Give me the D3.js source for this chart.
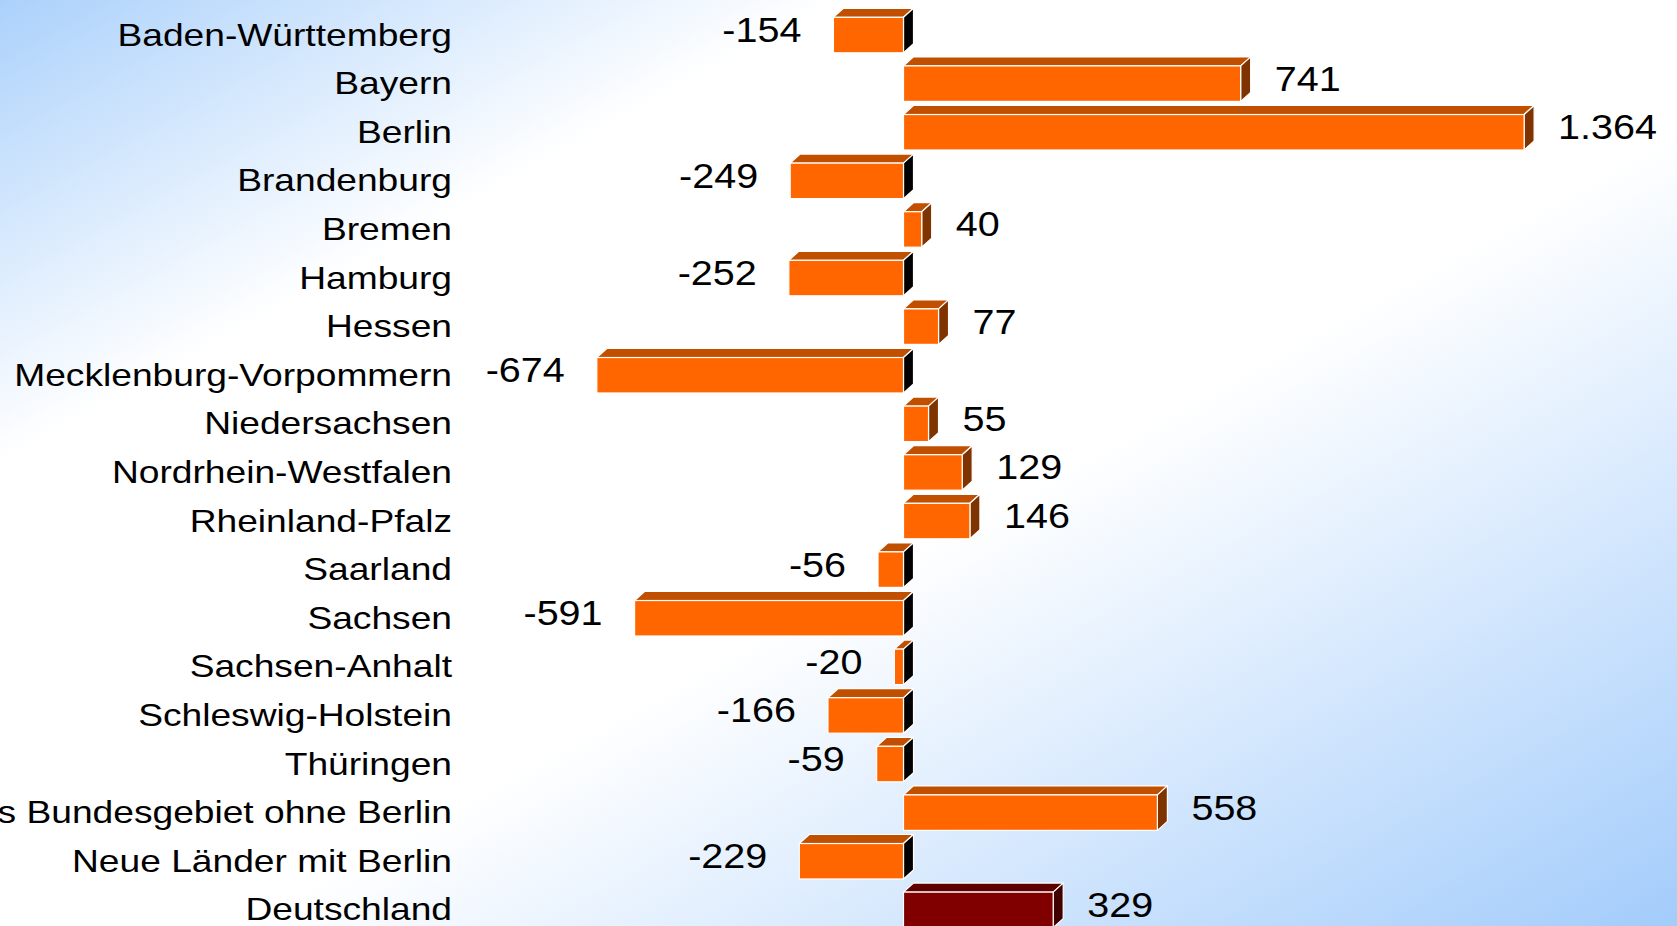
<!DOCTYPE html>
<html>
<head>
<meta charset="utf-8">
<script src="https://cdn.jsdelivr.net/npm/d3@7"></script>
<style>
  body { margin: 0; padding: 0; overflow: hidden; }
  text { font-family: "Liberation Sans", Arial, sans-serif; fill: #000; }
</style>
</head>
<body>
<div id="chart"></div>
<script>
// data
var categories = ["Baden-Württemberg", "Bayern", "Berlin", "Brandenburg", "Bremen", "Hamburg",
  "Hessen", "Mecklenburg-Vorpommern", "Niedersachsen", "Nordrhein-Westfalen", "Rheinland-Pfalz",
  "Saarland", "Sachsen", "Sachsen-Anhalt", "Schleswig-Holstein", "Thüringen",
  "Früheres Bundesgebiet ohne Berlin", "Neue Länder mit Berlin", "Deutschland"];
var values = [-154, 741, 1364, -249, 40, -252, 77, -674, 55, 129, 146, -56, -591, -20, -166, -59, 558, -229, 329];
var valueLabels = ["-154", "741", "1.364", "-249", "40", "-252", "77", "-674", "55", "129", "146",
  "-56", "-591", "-20", "-166", "-59", "558", "-229", "329"];
var highlight = ["Deutschland"];

var data = categories.map(function(c, i) {
  return {name: c, value: values[i], label: valueLabels[i]};
});

var width = 1677, height = 926;
var depthX = 10, depthY = 9;   // fake 3d offset
var catStretch = 1.18, valStretch = 1.13;  // text in the picture is wider than normal

var svg = d3.select("#chart")
  .append("svg")
  .attr("width", width)
  .attr("height", height);

// background: diagonal blue - white - blue
var grad = svg.append("defs").append("linearGradient")
  .attr("id", "bg")
  .attr("x1", 0).attr("y1", 0).attr("x2", 1).attr("y2", 1);
grad.append("stop").attr("offset", "0%").attr("stop-color", "#abd1fb");
grad.append("stop").attr("offset", "25%").attr("stop-color", "#ffffff");
grad.append("stop").attr("offset", "57%").attr("stop-color", "#ffffff");
grad.append("stop").attr("offset", "100%").attr("stop-color", "#a3ccfb");

svg.append("rect")
  .attr("width", width)
  .attr("height", height)
  .attr("fill", "url(#bg)");

var x = d3.scaleLinear()
  .domain([-700, 1400])
  .range([585, 1540.5]);

var y = d3.scaleBand()
  .domain(categories)
  .range([10.75, 934.15])
  .paddingInner(0.27)
  .paddingOuter(0.135);

function colors(d) {
  if (highlight.indexOf(d.name) >= 0) return {front: "#800000", top: "#5e0000", side: "#400000"};
  return {front: "#ff6600", top: "#c04f00", side: d.value < 0 ? "#000000" : "#7f3300"};
}

var bars = svg.append("g")
  .selectAll("g")
  .data(data)
  .enter().append("g");

bars.each(function(d) {
  var g = d3.select(this);
  var x0 = Math.min(x(0), x(d.value)), x1 = Math.max(x(0), x(d.value));
  var y0 = y(d.name), h = y.bandwidth();
  var c = colors(d);
  // top face
  g.append("path")
    .attr("d", "M" + x0 + "," + y0 + "L" + (x0 + depthX) + "," + (y0 - depthY) +
      "L" + (x1 + depthX) + "," + (y0 - depthY) + "L" + x1 + "," + y0 + "Z")
    .attr("fill", c.top)
    .attr("stroke", "#fff").attr("stroke-width", 1.2).attr("stroke-linejoin", "round");
  // side face
  g.append("path")
    .attr("d", "M" + x1 + "," + y0 + "L" + (x1 + depthX) + "," + (y0 - depthY) +
      "L" + (x1 + depthX) + "," + (y0 + h - depthY) + "L" + x1 + "," + (y0 + h) + "Z")
    .attr("fill", c.side)
    .attr("stroke", "#fff").attr("stroke-width", 1.2).attr("stroke-linejoin", "round");
  // front face
  g.append("rect")
    .attr("x", x0)
    .attr("y", y0)
    .attr("width", x1 - x0)
    .attr("height", h)
    .attr("fill", c.front)
    .attr("stroke", "#fff").attr("stroke-width", 1.2);
});

// category labels
svg.append("g")
  .selectAll("text")
  .data(data)
  .enter().append("text")
  .attr("transform", function(d) {
    return "translate(452," + (y(d.name) + y.bandwidth() / 2 + 10.5) + ") scale(" + catStretch + ",1)";
  })
  .attr("text-anchor", "end")
  .style("font-size", "31.5px")
  .text(function(d) { return d.name; });

// value labels
svg.append("g")
  .selectAll("text")
  .data(data)
  .enter().append("text")
  .attr("transform", function(d) {
    var tx = d.value < 0 ? x(d.value) - 32 : x(d.value) + 34;
    return "translate(" + tx + "," + (y(d.name) + y.bandwidth() / 2 + 7) + ") scale(" + valStretch + ",1)";
  })
  .attr("text-anchor", function(d) { return d.value < 0 ? "end" : "start"; })
  .style("font-size", "35px")
  .text(function(d) { return d.label; });
</script>
</body>
</html>
